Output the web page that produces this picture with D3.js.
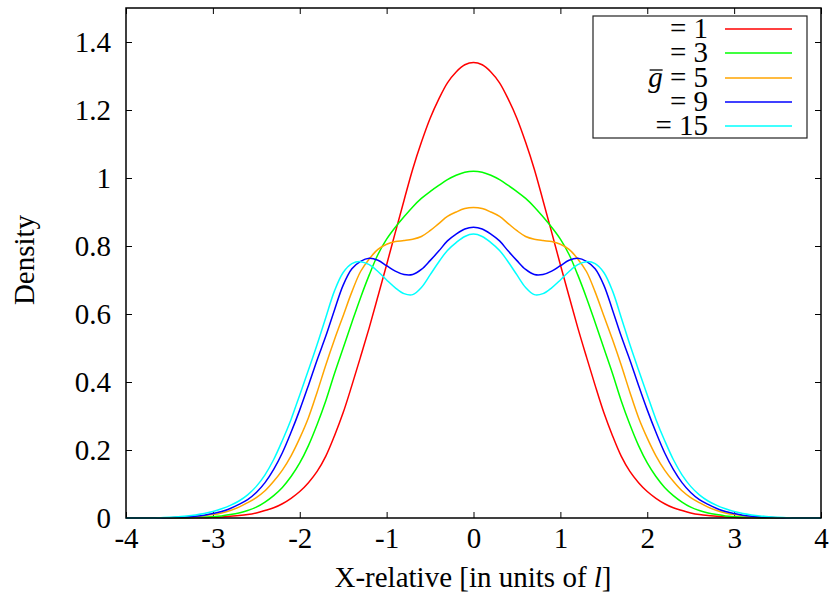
<!DOCTYPE html>
<html>
<head>
<meta charset="utf-8">
<script src="https://cdn.jsdelivr.net/npm/d3@7"></script>
<style>
  body { margin: 0; background: #fff; }
  svg { display: block; }
  text { font-family: "Liberation Serif", "Times New Roman", serif; fill: #000; }
</style>
</head>
<body>
<svg id="chart" width="831" height="594" font-family="Liberation Serif, serif"></svg>
<script>
// x grid: -4 .. 4, step 0.1
const xs = d3.range(81).map(i => +(-4 + i * 0.1).toFixed(1))

// densities, left to right
const g1 = [0,0,0,0,0,0,0,0,0.001,0.001,0.002,0.003,0.005,0.007,0.010,0.015,0.022,0.030,0.042,0.058,0.078,0.104,0.137,0.182,0.242,0.310,0.390,0.474,0.560,0.652,0.745,0.840,0.934,1.026,1.105,1.175,1.232,1.280,1.312,1.333,
  1.340,
  1.333,1.312,1.280,1.232,1.175,1.105,1.026,0.934,0.840,0.745,0.652,0.560,0.474,0.390,0.310,0.242,0.182,0.137,0.104,0.078,0.058,0.042,0.030,0.022,0.015,0.010,0.007,0.005,0.003,0.002,0.001,0.001,0,0,0,0,0,0,0,0]
const g3 = [0,0,0,0,0,0,0.001,0.001,0.002,0.003,0.004,0.006,0.010,0.015,0.022,0.032,0.047,0.066,0.090,0.122,0.162,0.213,0.275,0.345,0.425,0.500,0.575,0.648,0.715,0.775,0.820,0.855,0.886,0.915,0.940,0.960,0.978,0.995,1.008,1.017,
  1.020,
  1.017,1.008,0.995,0.978,0.960,0.940,0.915,0.886,0.855,0.820,0.775,0.715,0.648,0.575,0.500,0.425,0.345,0.275,0.213,0.162,0.122,0.090,0.066,0.047,0.032,0.022,0.015,0.010,0.006,0.004,0.003,0.002,0.001,0.001,0,0,0,0,0,0]
const g5 = [0,0,0,0,0,0.001,0.002,0.003,0.004,0.007,0.010,0.015,0.022,0.032,0.045,0.060,0.080,0.108,0.141,0.183,0.235,0.295,0.370,0.450,0.525,0.595,0.665,0.725,0.762,0.790,0.805,0.813,0.816,0.820,0.828,0.845,0.866,0.887,0.900,0.910,
  0.913,
  0.910,0.900,0.887,0.866,0.845,0.828,0.820,0.816,0.813,0.805,0.790,0.762,0.725,0.665,0.595,0.525,0.450,0.370,0.295,0.235,0.183,0.141,0.108,0.080,0.060,0.045,0.032,0.022,0.015,0.010,0.007,0.004,0.003,0.002,0.001,0,0,0,0,0]
const g9 = [0,0,0,0,0,0.001,0.002,0.003,0.005,0.008,0.013,0.019,0.028,0.040,0.054,0.075,0.104,0.143,0.192,0.252,0.318,0.390,0.465,0.535,0.612,0.685,0.733,0.755,0.764,0.758,0.742,0.726,0.716,0.716,0.731,0.757,0.785,0.815,0.835,0.850,
  0.855,
  0.850,0.835,0.815,0.785,0.757,0.731,0.716,0.716,0.726,0.742,0.758,0.764,0.755,0.733,0.685,0.612,0.535,0.465,0.390,0.318,0.252,0.192,0.143,0.104,0.075,0.054,0.040,0.028,0.019,0.013,0.008,0.005,0.003,0.002,0.001,0,0,0,0,0]
const g15 = [0,0,0,0,0.001,0.002,0.004,0.006,0.009,0.013,0.019,0.027,0.037,0.050,0.068,0.093,0.127,0.172,0.228,0.290,0.362,0.435,0.510,0.590,0.668,0.722,0.748,0.754,0.745,0.725,0.700,0.677,0.660,0.657,0.678,0.715,0.753,0.787,0.810,0.828,
  0.835,
  0.828,0.810,0.787,0.753,0.715,0.678,0.657,0.660,0.677,0.700,0.725,0.745,0.754,0.748,0.722,0.668,0.590,0.510,0.435,0.362,0.290,0.228,0.172,0.127,0.093,0.068,0.050,0.037,0.027,0.019,0.013,0.009,0.006,0.004,0.002,0.001,0,0,0,0]

const labels = ['= 1', '= 3', '= 5', '= 9', '= 15']
const colors = ['#ff0000', '#00ff00', '#ffa500', '#0000ff', '#00ffff']
const xTicks = [-4, -3, -2, -1, 0, 1, 2, 3, 4]
const yTicks = [0, 0.2, 0.4, 0.6, 0.8, 1, 1.2, 1.4]

const series = [g1, g3, g5, g9, g15]

const svg = d3.select('#chart')
const plot = { left: 126, right: 821, top: 8, bottom: 518 }
const fontSize = 29
const serif = '"Liberation Serif", "Times New Roman", serif'

const x = d3.scaleLinear().domain([-4, 4]).range([plot.left, plot.right])
const y = d3.scaleLinear().domain([0, 1.5]).range([plot.bottom, plot.top])

// axes: ticks point inwards, mirrored on top and right
const fmt = d => String(d)
const axes = [
  svg.append('g')
    .attr('transform', `translate(0,${plot.bottom})`)
    .call(d3.axisBottom(x).tickValues(xTicks).tickFormat(fmt).tickSize(-6).tickPadding(9)),
  svg.append('g')
    .attr('transform', `translate(0,${plot.top})`)
    .call(d3.axisTop(x).tickValues(xTicks).tickFormat('').tickSize(-6)),
  svg.append('g')
    .attr('transform', `translate(${plot.left},0)`)
    .call(d3.axisLeft(y).tickValues(yTicks).tickFormat(fmt).tickSize(-6).tickPadding(15)),
  svg.append('g')
    .attr('transform', `translate(${plot.right},0)`)
    .call(d3.axisRight(y).tickValues(yTicks).tickFormat('').tickSize(-6))
]
axes.forEach(a => a.attr('font-family', serif).attr('font-size', fontSize))

svg.selectAll('.domain').remove()
svg.selectAll('.tick line').attr('stroke', '#000').attr('stroke-width', 1)
svg.selectAll('.tick text')
  .style('font-size', fontSize + 'px')
  .style('font-family', serif)
  .attr('fill', '#000')

// curves
const line = d3.line()
  .x((d, i) => x(xs[i]))
  .y(d => y(d))
  .curve(d3.curveCatmullRom.alpha(0.5))

svg.append('g').selectAll('path.curve')
  .data(series)
  .join('path')
  .attr('class', 'curve')
  .attr('fill', 'none')
  .attr('stroke', (d, i) => colors[i])
  .attr('stroke-width', 1.5)
  .attr('d', line)

// frame
svg.append('rect')
  .attr('x', plot.left).attr('y', plot.top)
  .attr('width', plot.right - plot.left).attr('height', plot.bottom - plot.top)
  .attr('fill', 'none')
  .attr('stroke', '#000')
  .attr('stroke-width', 1.5)

// legend
const lg = svg.append('g')
lg.append('rect')
  .attr('x', 593).attr('y', 16)
  .attr('width', 214).attr('height', 122)
  .attr('fill', '#fff')
  .attr('stroke', '#222')
  .attr('stroke-width', 1.2)

const rowY = [29, 53, 78, 102, 126]
labels.forEach((lab, i) => {
  const t = lg.append('text')
    .attr('x', 708)
    .attr('y', rowY[i] + 9)
    .attr('text-anchor', 'end')
    .style('font-size', fontSize + 'px')
  if (i === 2) {
    t.append('tspan').style('font-style', 'italic').text('g')
    t.append('tspan').text('\u00a0' + lab)
    const ext = t.node().getExtentOfChar(0)
    lg.append('line')
      .attr('x1', ext.x + 1.5).attr('x2', ext.x + ext.width)
      .attr('y1', rowY[i] - 8).attr('y2', rowY[i] - 8)
      .attr('stroke', '#000').attr('stroke-width', 1.3)
  } else {
    t.text(lab)
  }
  lg.append('line')
    .attr('x1', 725).attr('x2', 792)
    .attr('y1', rowY[i]).attr('y2', rowY[i])
    .attr('stroke', colors[i])
    .attr('stroke-width', 1.5)
})

// axis titles
const xt = svg.append('text')
  .attr('x', 473).attr('y', 587)
  .attr('text-anchor', 'middle')
  .style('font-size', fontSize + 'px')
xt.append('tspan').text('X-relative [in units of ')
xt.append('tspan').style('font-style', 'italic').text('l')
xt.append('tspan').text(']')

svg.append('text')
  .attr('transform', 'translate(34,260) rotate(-90)')
  .attr('text-anchor', 'middle')
  .style('font-size', fontSize + 'px')
  .text('Density')
</script>
</body>
</html>
